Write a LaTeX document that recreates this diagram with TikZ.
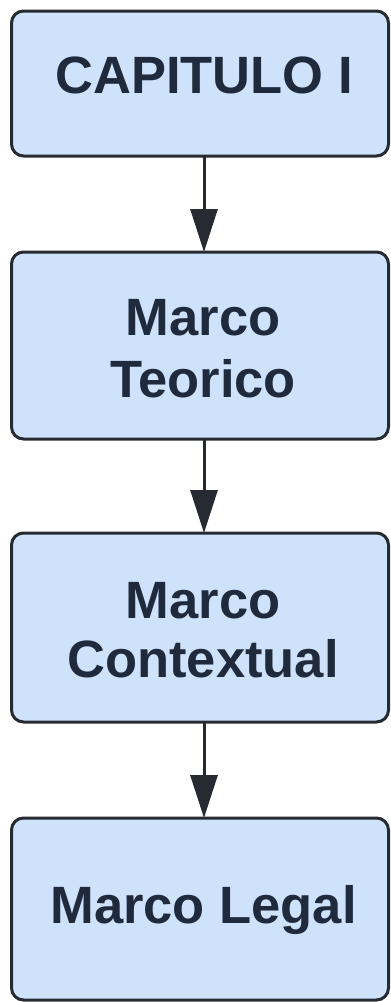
\documentclass[tikz,border=0pt]{standalone}
\usepackage{fontspec}
\setmainfont{Liberation Sans}
\usetikzlibrary{arrows.meta}
\definecolor{boxfill}{HTML}{CFE2FC}
\definecolor{boxline}{HTML}{262B31}
\definecolor{inkcol}{HTML}{1F2A3C}
\tikzset{
  stagebox/.style={draw=boxline, fill=boxfill, line width=3pt, rounded corners=12pt,
    minimum width=377pt, inner sep=0pt, outer sep=0pt},
  stagetext/.style={anchor=base, text=inkcol, inner sep=0pt,
    font=\fontsize{52.5pt}{62pt}\selectfont\bfseries},
  flow/.style={draw=boxline, line width=3pt,
    -{Triangle[length=43pt,width=27pt]}}
}
\begin{document}
\begin{tikzpicture}[x=1pt,y=-1pt]
  \useasboundingbox (0,0) rectangle (391,1002);
  \clip (0,0) rectangle (391,1002);
  % the four stages
  \node[stagebox, minimum height=145pt] (b1) at (200,83.5) {};
  \node[stagebox, minimum height=187pt] (b2) at (200,345.5) {};
  \node[stagebox, minimum height=189pt] (b3) at (200,627.5) {};
  \node[stagebox, minimum height=182pt] (b4) at (200,909) {};
  % labels
  \node[stagetext] (t1) at (204,93) {CAPITULO I};
  \node[stagetext] (t2a) at (203,335) {Marco};
  \node[stagetext] (t2b) at (203,397) {Teorico};
  \node[stagetext] (t3a) at (203,618) {Marco};
  \node[stagetext] (t3b) at (203,677) {Contextual};
  \node[stagetext] (t4) at (203.5,923) {Marco Legal};
  % connectors
  \draw[flow] (b1.south -| 204,0) -- (b2.north -| 204,0);
  \draw[flow] (b2.south -| 204,0) -- (b3.north -| 204,0);
  \draw[flow] (b3.south -| 204,0) -- (b4.north -| 204,0);
\end{tikzpicture}
\end{document}
